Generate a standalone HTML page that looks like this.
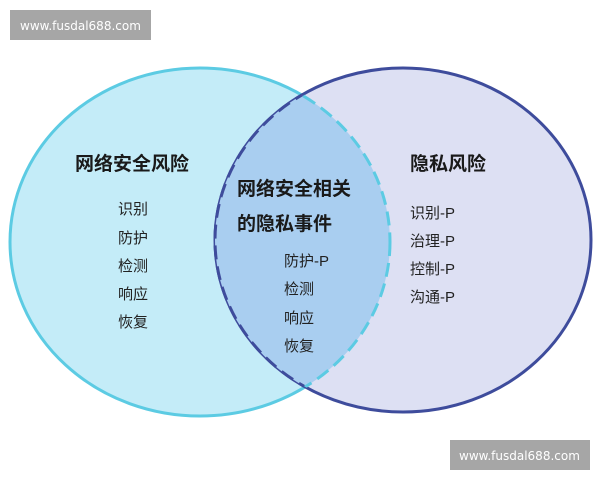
<!DOCTYPE html>
<html><head><meta charset="utf-8"><style>
html,body{margin:0;padding:0;background:#fff;width:600px;height:480px;overflow:hidden}
svg{display:block}
.t{font-family:"Liberation Sans","Noto Sans CJK SC",sans-serif;fill:#1a1a1a}
.b{font-weight:bold;font-size:19px}
.i{font-size:15px;fill:#222}
.w{font-family:"DejaVu Sans","Liberation Sans",sans-serif;font-size:12px;fill:#fff}
</style></head><body>
<svg width="600" height="480" viewBox="0 0 600 480">
<defs>
<clipPath id="cl"><ellipse cx="200" cy="242" rx="190" ry="174"/></clipPath>
<clipPath id="cr"><ellipse cx="403" cy="240" rx="188" ry="172"/></clipPath>
</defs>
<ellipse cx="200" cy="242" rx="190" ry="174" fill="#c4ecf8" stroke="#5ccbe3" stroke-width="3"/>
<ellipse cx="403" cy="240" rx="188" ry="172" fill="#dde0f3" stroke="#3e4c9c" stroke-width="3"/>
<g clip-path="url(#cl)"><ellipse cx="403" cy="240" rx="188" ry="172" fill="#a9cef0"/>
<ellipse cx="403" cy="240" rx="188" ry="172" fill="none" stroke="#3e4c9c" stroke-width="3" stroke-dasharray="14 7"/></g>
<g clip-path="url(#cr)"><ellipse cx="200" cy="242" rx="190" ry="174" fill="none" stroke="#5ccbe3" stroke-width="3" stroke-dasharray="14 7"/></g>
<text class="t b" x="75" y="170">网络安全风险</text>
<text class="t i" x="118" y="214">识别</text>
<text class="t i" x="118" y="243">防护</text>
<text class="t i" x="118" y="271">检测</text>
<text class="t i" x="118" y="299">响应</text>
<text class="t i" x="118" y="327">恢复</text>
<text class="t b" x="237" y="195">网络安全相关</text>
<text class="t b" x="237" y="230">的隐私事件</text>
<text class="t i" x="284" y="266">防护-P</text>
<text class="t i" x="284" y="294">检测</text>
<text class="t i" x="284" y="323">响应</text>
<text class="t i" x="284" y="351">恢复</text>
<text class="t b" x="410" y="170">隐私风险</text>
<text class="t i" x="410" y="218">识别-P</text>
<text class="t i" x="410" y="246">治理-P</text>
<text class="t i" x="410" y="274">控制-P</text>
<text class="t i" x="410" y="302">沟通-P</text>
<rect x="10" y="10" width="141" height="30" fill="#a6a6a6"/>
<text class="w" x="20" y="30">www.fusdal688.com</text>
<rect x="450" y="440" width="140" height="30" fill="#a6a6a6"/>
<text class="w" x="459" y="460">www.fusdal688.com</text>
</svg>
</body></html>
